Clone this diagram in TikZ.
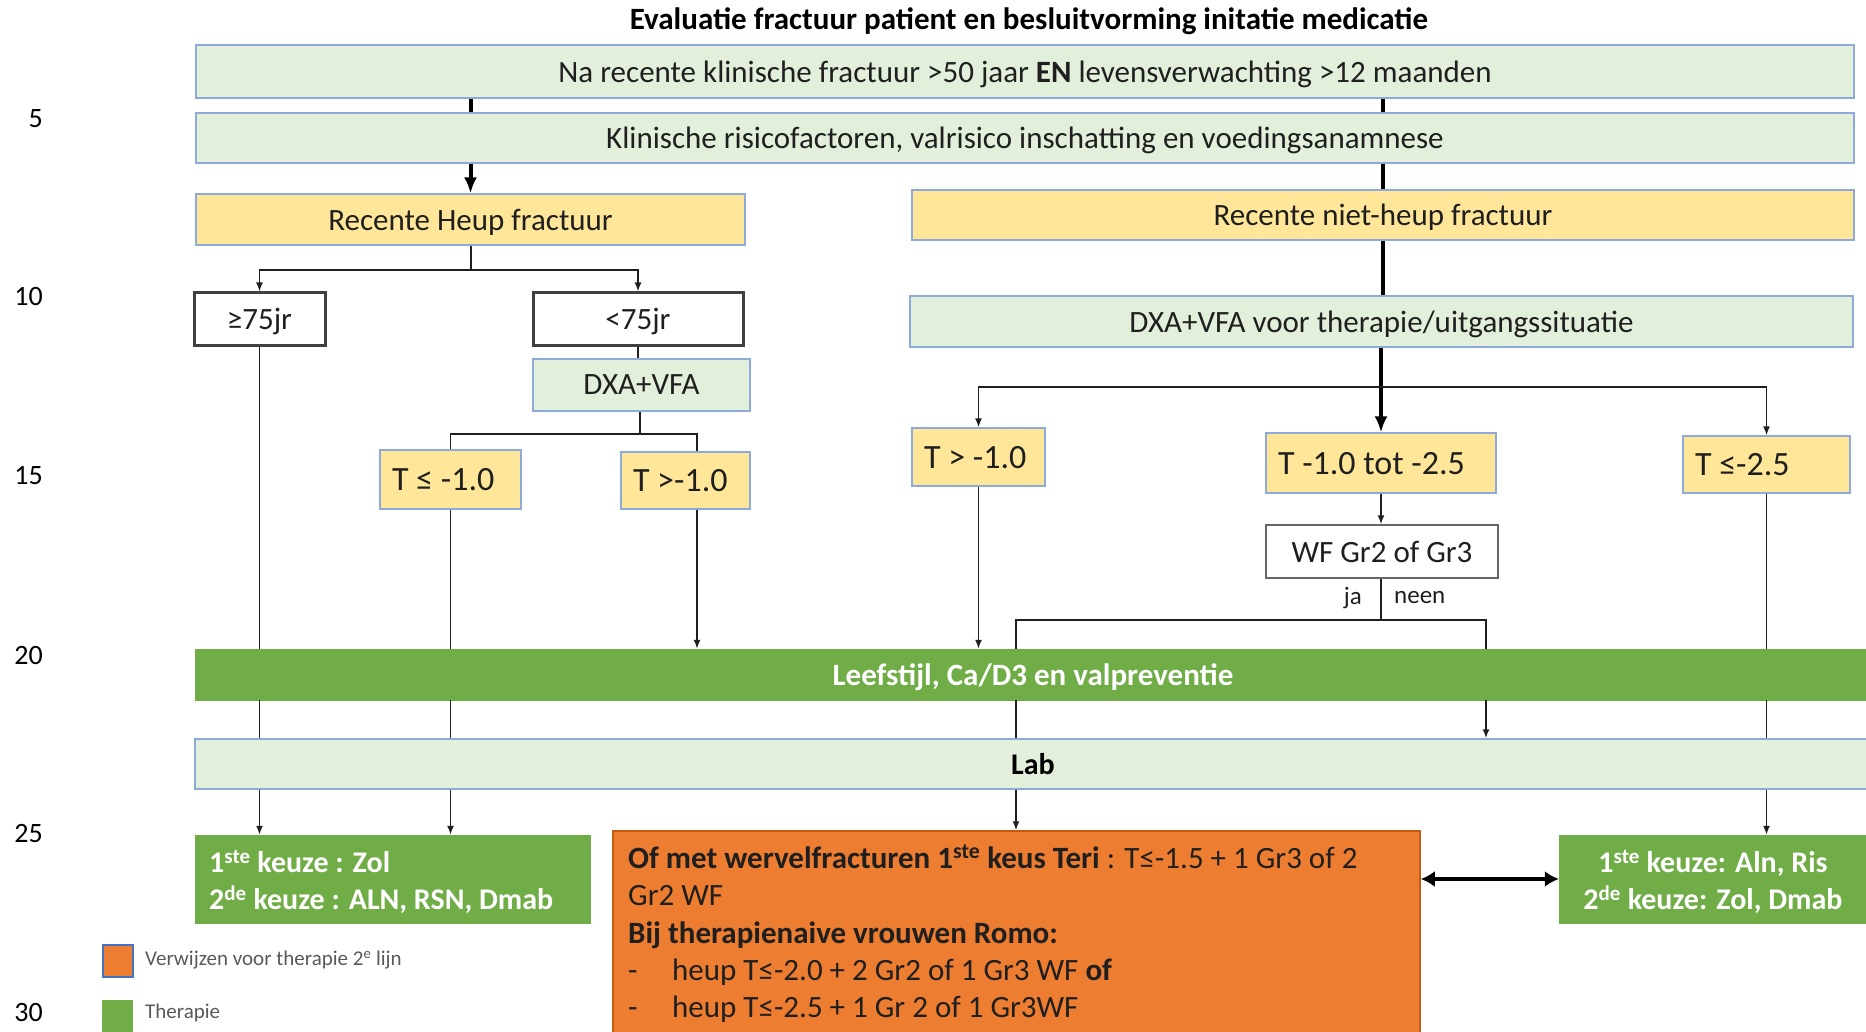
\documentclass[tikz,border=0pt]{standalone}
\usepackage{fontspec}
\setmainfont{Carlito}
\usetikzlibrary{arrows.meta}
\definecolor{lgreen}{HTML}{E2EFDA}
\definecolor{lblue}{HTML}{8EAADB}
\definecolor{yel}{HTML}{FFE699}
\definecolor{grn}{HTML}{70AD47}
\definecolor{orng}{HTML}{ED7D31}
\definecolor{orngb}{HTML}{C55A11}
\definecolor{txt}{HTML}{1F1F1F}
\definecolor{wborder}{HTML}{404040}
\definecolor{legtxt}{HTML}{595959}
\definecolor{legblue}{HTML}{4472C4}
\newcommand\fsz[2]{\fontsize{#1}{#2}\selectfont}
\begin{document}
\begin{tikzpicture}[x=1pt,y=-1pt,
  gbox/.style={draw=lblue, line width=1.5pt, fill=lgreen, inner sep=0pt, text depth=0pt, text=txt, font=\fsz{31}{37}},
  ybox/.style={draw=lblue, line width=1.2pt, fill=yel, inner sep=0pt, text depth=0pt, text=txt, font=\fsz{31}{37}},
  tbox/.style={draw=lblue, line width=1.2pt, fill=yel, inner xsep=12pt, inner ysep=0pt, text depth=0pt, text=txt, font=\fsz{34}{41}},
  wbox/.style={draw=wborder, line width=3pt, fill=white, inner sep=0pt, text depth=0pt, text=txt, font=\fsz{31}{37}},
  wfbox/.style={draw=wborder!80, line width=1.5pt, fill=white, inner sep=0pt, text depth=0pt, text=txt, font=\fsz{31}{37}},
  bar/.style={draw=grn, fill=grn, inner sep=0pt, text depth=0pt, text=white, font=\bfseries\fsz{31}{37}},
  labbar/.style={draw=lblue, line width=1.5pt, fill=lgreen, inner sep=0pt, text depth=0pt, text=black, font=\bfseries\fsz{30}{36}},
  gtherapy/.style={draw=grn, fill=grn, inner sep=0pt},
  gtext/.style={inner sep=0pt, text=white, font=\bfseries\fsz{30}{37}},
  obox/.style={draw=orngb, line width=1.5pt, fill=orng, inner sep=0pt},
  otext/.style={anchor=base west, inner sep=0pt, text=txt, font=\fsz{31}{37}},
  lnum/.style={anchor=east, inner sep=0pt, text=black, font=\fsz{28}{34}},
  legtext/.style={anchor=west, inner sep=0pt, text=legtxt, font=\fsz{21}{25}},
  small/.style={inner sep=0pt, text=txt, font=\fsz{25}{30}},
  con/.style={line width=1.6pt, draw=txt},
  arr/.style={con, -{Latex[length=9pt,width=7pt]}},
  tcon/.style={line width=4pt, draw=black},
  tarr/.style={tcon, -{Latex[length=16pt,width=13pt]}},
  darr/.style={line width=4pt, draw=black, {Latex[length=14pt,width=16pt]}-{Latex[length=14pt,width=16pt]}}
]
\clip (0,0) rectangle (1866,1032);

% title
\node[inner sep=0pt, text=black, font=\bfseries\fsz{31}{37}] (title) at (1029,21) {Evaluatie fractuur patient en besluitvorming initatie medicatie};

% line numbers
\node[lnum] (n5) at (43,119) {5};
\node[lnum] (n10) at (43,297) {10};
\node[lnum] (n15) at (43,476) {15};
\node[lnum] (n20) at (43,656) {20};
\node[lnum] (n25) at (43,834) {25};
\node[lnum] (n30) at (43,1013) {30};

% top boxes
\node[gbox, minimum width=1658pt, minimum height=53pt] (na) at (1025,71.5) {Na recente klinische fractuur >50 jaar \textbf{EN} levensverwachting >12 maanden};
\node[gbox, minimum width=1658pt, minimum height=50pt] (klin) at (1025,138) {Klinische risicofactoren, valrisico inschatting en voedingsanamnese};
\node[ybox, minimum width=549pt, minimum height=51pt] (heup) at (470.5,219.5) {Recente Heup fractuur};
\node[ybox, minimum width=942pt, minimum height=50pt] (nheup) at (1383,215) {Recente niet-heup fractuur};

% left branch
\node[wbox, minimum width=131pt, minimum height=52pt] (ge75) at (259.5,319) {≥75jr};
\node[wbox, minimum width=210pt, minimum height=52pt] (lt75) at (638,319) {<75jr};
\node[gbox, minimum width=217pt, minimum height=52pt] (dxa1) at (641.5,385) {DXA+VFA};
\node[tbox, minimum height=59pt] (tle1) at (450.5,479.5) {\makebox[117pt][l]{T ≤ -1.0}};
\node[tbox, minimum height=57pt] (tgt1) at (685.5,480.5) {\makebox[105pt][l]{T >-1.0}};

% right branch
\node[gbox, minimum width=943pt, minimum height=51pt] (dxa2) at (1381.5,321.5) {DXA+VFA voor therapie/uitgangssituatie};
\node[tbox, minimum height=58pt] (tgt2) at (978.5,457) {\makebox[109pt][l]{T > -1.0}};
\node[tbox, minimum height=60pt] (tmid) at (1381,463) {\makebox[206pt][l]{T -1.0 tot -2.5}};
\node[tbox, minimum height=57pt] (tle2) at (1766.5,464.5) {\makebox[143pt][l]{T ≤-2.5}};
\node[wfbox, minimum width=232pt, minimum height=53pt] (wf) at (1382,551.5) {WF Gr2 of Gr3};
\node[small, anchor=east] (ja) at (1362,598) {ja};
\node[small, anchor=west] (neen) at (1394,598) {neen};

% bars
\node[bar, minimum width=1676pt, minimum height=51pt] (leef) at (1033,674.5) {Leefstijl, Ca/D3 en valpreventie};
\node[labbar, minimum width=1676pt, minimum height=50pt] (lab) at (1033,764) {Lab};

% outcome boxes
\node[gtherapy, minimum width=395pt, minimum height=88pt] (g1) at (392.5,879) {};
\node[gtext, anchor=west, align=left] (g1t) at (209,882) {1\textsuperscript{ste} keuze : Zol\\2\textsuperscript{de} keuze : ALN, RSN, Dmab};
\node[obox, minimum width=807pt, minimum height=209pt] (orng) at (1016.5,935.5) {};
\node[gtherapy, minimum width=310pt, minimum height=88pt] (g2) at (1714,879) {};
\node[gtext, align=center] (g2t) at (1713,882) {1\textsuperscript{ste} keuze: Aln, Ris\\2\textsuperscript{de} keuze: Zol, Dmab};

\node[otext] (o1) at (628,868) {\textbf{Of met wervelfracturen 1\textsuperscript{ste} keus Teri} : T≤-1.5 + 1 Gr3 of 2};
\node[otext] (o2) at (628,905) {Gr2 WF};
\node[otext] (o3) at (628,943) {\textbf{Bij therapienaive vrouwen Romo:}};
\node[otext] (o4) at (628,980) {\makebox[44pt][l]{-}heup T≤-2.0 + 2 Gr2 of 1 Gr3 WF \textbf{of}};
\node[otext] (o5) at (628,1017) {\makebox[44pt][l]{-}heup T≤-2.5 + 1 Gr 2 of 1 Gr3WF};

% legend
\node[draw=legblue, line width=2pt, fill=orng, minimum width=30pt, minimum height=32pt, inner sep=0pt] (lo) at (117.5,960.5) {};
\node[legtext] (lotxt) at (145,960) {Verwijzen voor therapie 2\textsuperscript{e} lijn};
\node[fill=grn, minimum width=31pt, minimum height=35pt, inner sep=0pt] (lg) at (117.5,1017) {};
\node[legtext] (lgtxt) at (145,1013) {Therapie};

% helper coordinates
\coordinate (hs) at (471,270);
\coordinate (ds) at (640,434);
\coordinate (t1x) at (697,434);
\coordinate (rs) at (1381,387);
\coordinate (ws) at (1381,620);
\coordinate (jaX) at (1016,620);
\coordinate (neenX) at (1486,620);

% connectors top
\draw[tcon] (na.south -| heup) -- (klin.north -| heup);
\draw[tcon] (na.south -| nheup) -- (klin.north -| nheup);
\draw[tarr] (klin.south -| heup) -- (heup.north);
\draw[tcon] (klin.south -| nheup) -- (nheup.north);

% left branch connectors
\draw[con] (heup.south -| hs) -- (hs);
\draw[arr] (hs) -| (ge75.north);
\draw[arr] (hs) -| (lt75.north);
\draw[con] (lt75.south) -- (lt75.south |- dxa1.north);
\draw[con] (dxa1.south -| ds) -- (ds);
\draw[con] (ds) -| (tle1.north);
\draw[con] (ds) -- (t1x) -- (t1x |- tgt1.north);

% right branch connectors
\draw[tcon] (nheup.south) -- (nheup.south |- dxa2.north);
\draw[tarr] (dxa2.south -| tmid) -- (tmid.north);
\draw[arr] (rs) -| (tgt2.north);
\draw[arr] (rs) -| (tle2.north);
\draw[arr] (tmid.south) -- (tmid.south |- wf.north);
\draw[con] (wf.south -| ws) -- (ws);
\draw[con] (ws) -- (jaX) -- (jaX |- leef.north);
\draw[con] (ws) -- (neenX) -- (neenX |- leef.north);

% into leefstijl bar
\draw[arr] (tgt2.south) -- (tgt2.south |- leef.north);
\draw[arr] (t1x |- tgt1.south) -- (t1x |- leef.north);
\draw[con] (ge75.south) -- (ge75.south |- leef.north);
\draw[con] (tle1.south) -- (tle1.south |- leef.north);
\draw[con] (tle2.south) -- (tle2.south |- leef.north);

% leefstijl to lab
\draw[con] (ge75.south |- leef.south) -- (ge75.south |- lab.north);
\draw[con] (tle1.south |- leef.south) -- (tle1.south |- lab.north);
\draw[con] (jaX |- leef.south) -- (jaX |- lab.north);
\draw[arr] (neenX |- leef.south) -- (neenX |- lab.north);
\draw[con] (tle2.south |- leef.south) -- (tle2.south |- lab.north);

% lab to outcomes
\draw[arr] (ge75.south |- lab.south) -- (ge75.south |- g1.north);
\draw[arr] (tle1.south |- lab.south) -- (tle1.south |- g1.north);
\draw[arr] (jaX |- lab.south) -- (jaX |- orng.north);
\draw[arr] (tle2.south |- lab.south) -- (tle2.south |- g2.north);

% double arrow
\draw[darr] (g2.west -| orng.east) -- (g2.west);
\end{tikzpicture}
\end{document}
